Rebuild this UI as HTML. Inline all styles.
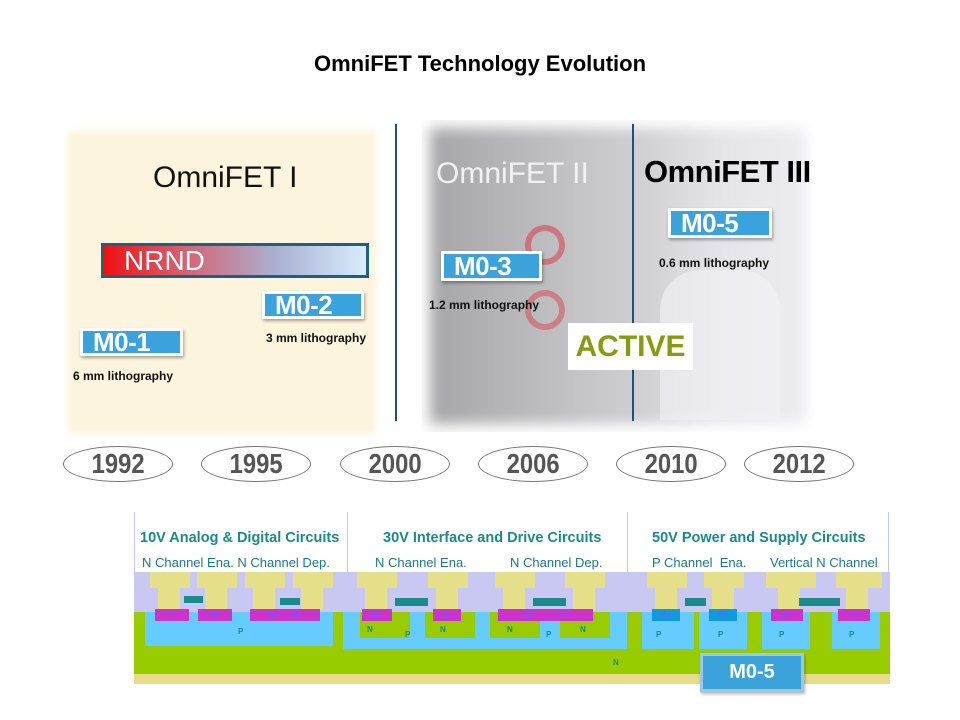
<!DOCTYPE html>
<html><head><meta charset="utf-8"><style>
*{margin:0;padding:0;box-sizing:border-box}
body{width:960px;height:720px;background:#fff;position:relative;overflow:hidden;font-family:"Liberation Sans",sans-serif}
.a{position:absolute}
.box{position:absolute;background:#3aa3dc;border:3px solid #fff;box-shadow:1px 2px 3px rgba(0,0,0,.35);color:#fff;font-weight:bold;font-size:26px;line-height:22px;padding-left:10px;letter-spacing:-0.5px}
.lith{position:absolute;font-weight:bold;font-size:12px;color:#111}
.yr{position:absolute;top:446px;width:110px;height:36px;border:1px solid #777;border-radius:50%;text-align:center;font-weight:bold;font-size:28px;line-height:34px;color:#555}
.yr span{display:inline-block;transform:scaleX(.85)}
.hd{position:absolute;top:530px;color:#1a8a8a;font-weight:bold;font-size:14.5px}
.sub{position:absolute;top:555px;color:#1a7a8a;font-size:13px}
.r{position:absolute}
.nplus{position:absolute;background:#cc33cc;height:12px;top:609px;color:#7a55ff;font-size:8px;line-height:12px;text-align:center}
.pl{position:absolute;color:#1a8a8a;font-size:8px;font-weight:bold}
</style></head><body>
<div class="a" style="left:0;top:51px;width:960px;text-align:center;font-weight:bold;font-size:22px;color:#000">OmniFET Technology Evolution</div>

<div class="a" style="left:72px;top:135px;width:300px;height:295px;background:#fcf4dc;box-shadow:0 0 8px 4px #fcf4dc"></div>
<div class="a" style="left:422px;top:120px;width:392px;height:312px;background:linear-gradient(90deg,#a4a4a6 0%,#bcbcbe 30%,#cfcfd2 55%,#e4e4e8 75%,#eeeef2 100%);box-shadow:0 0 14px 8px #fff inset"></div>
<div class="a" style="left:525px;top:225px;width:40px;height:40px;border-radius:50%;border:6px solid #d23;opacity:.45"></div>
<div class="a" style="left:525px;top:290px;width:40px;height:40px;border-radius:50%;border:6px solid #d23;opacity:.4"></div>
<div class="a" style="left:660px;top:270px;width:120px;height:150px;background:#f4f4f7;border-radius:40px 40px 0 0;opacity:.6"></div>

<div class="a" style="left:395px;top:124px;width:2px;height:297px;background:#1f4e79"></div>
<div class="a" style="left:632px;top:124px;width:2px;height:297px;background:#1f4e79"></div>

<div class="a" style="left:153px;top:161px;font-size:30px;color:#111">OmniFET I</div>
<div class="a" style="left:436px;top:157px;font-size:30px;color:#f2f2f2">OmniFET II</div>
<div class="a" style="left:644px;top:154px;font-size:31px;font-weight:bold;color:#000;letter-spacing:-0.5px">OmniFET III</div>

<div class="a" style="left:101px;top:243px;width:268px;height:35px;border:3px solid #1f5f7f;background:linear-gradient(90deg,#ee1111 0%,#d86070 30%,#a8b0d0 65%,#d8ecfc 100%);color:#fff;font-size:28px;line-height:29px;padding-left:20px">NRND</div>

<div class="box" style="left:262px;top:291px;width:102px;height:28px">M0-2</div>
<div class="box" style="left:80px;top:328px;width:103px;height:28px">M0-1</div>
<div class="box" style="left:441px;top:251px;width:101px;height:30px;line-height:24px">M0-3</div>
<div class="box" style="left:668px;top:208px;width:104px;height:30px;line-height:24px">M0-5</div>
<div class="lith" style="left:266px;top:331px">3 mm lithography</div>
<div class="lith" style="left:73px;top:369px">6 mm lithography</div>
<div class="lith" style="left:429px;top:298px">1.2 mm lithography</div>
<div class="lith" style="left:659px;top:256px">0.6 mm lithography</div>
<div class="a" style="left:568px;top:323px;width:125px;height:47px;background:#fff;color:#8a9a10;font-weight:bold;font-size:30px;text-align:center;line-height:48px">ACTIVE</div>

<div class="yr" style="left:63px"><span>1992</span></div>
<div class="yr" style="left:201px"><span>1995</span></div>
<div class="yr" style="left:340px"><span>2000</span></div>
<div class="yr" style="left:478px"><span>2006</span></div>
<div class="yr" style="left:616px"><span>2010</span></div>
<div class="yr" style="left:744px"><span>2012</span></div>

<!-- diagram -->
<div class="r" style="left:134px;top:512px;width:1px;height:60px;background:#c8c8ee"></div>
<div class="r" style="left:347px;top:512px;width:1px;height:60px;background:#c8c8ee"></div>
<div class="r" style="left:627px;top:512px;width:1px;height:60px;background:#c8c8ee"></div>
<div class="r" style="left:888px;top:512px;width:1px;height:60px;background:#c8c8ee"></div>
<div class="hd" style="left:140px">10V Analog &amp; Digital Circuits</div>
<div class="hd" style="left:383px">30V Interface and Drive Circuits</div>
<div class="hd" style="left:652px">50V Power and Supply Circuits</div>
<div class="sub" style="left:142px">N Channel Ena. N Channel Dep.</div>
<div class="sub" style="left:375px">N Channel Ena.</div>
<div class="sub" style="left:510px">N Channel Dep.</div>
<div class="sub" style="left:652px">P Channel &nbsp;Ena.</div>
<div class="sub" style="left:770px">Vertical N Channel</div>

<div class="r" style="left:134px;top:572px;width:756px;height:40px;background:#c8c8f2"></div>
<div class="r" style="left:134px;top:612px;width:756px;height:62px;background:#99cc00"></div>
<div class="r" style="left:134px;top:674px;width:756px;height:10px;background:#e6dc8a"></div>
<div class="r" style="left:145px;top:612px;width:188px;height:34px;background:#66ccff"></div>
<div class="r" style="left:343px;top:612px;width:284px;height:37px;background:#66ccff"></div>
<div class="r" style="left:360px;top:612px;width:50px;height:26px;background:#99cc00"></div>
<div class="r" style="left:425px;top:612px;width:50px;height:26px;background:#99cc00"></div>
<div class="r" style="left:490px;top:612px;width:50px;height:26px;background:#99cc00"></div>
<div class="r" style="left:560px;top:612px;width:50px;height:26px;background:#99cc00"></div>
<div class="r" style="left:642px;top:612px;width:52px;height:37px;background:#66ccff"></div>
<div class="r" style="left:699px;top:612px;width:48px;height:37px;background:#66ccff"></div>
<div class="r" style="left:762px;top:612px;width:48px;height:37px;background:#66ccff"></div>
<div class="r" style="left:832px;top:612px;width:48px;height:37px;background:#66ccff"></div>
<div class="r" style="left:150px;top:572px;width:40px;height:16px;background:#e4df88"></div>
<div class="r" style="left:158px;top:588px;width:22px;height:22px;background:#e4df88"></div>
<div class="r" style="left:197px;top:572px;width:40px;height:16px;background:#e4df88"></div>
<div class="r" style="left:205px;top:588px;width:22px;height:22px;background:#e4df88"></div>
<div class="r" style="left:245px;top:572px;width:40px;height:16px;background:#e4df88"></div>
<div class="r" style="left:253px;top:588px;width:22px;height:22px;background:#e4df88"></div>
<div class="r" style="left:293px;top:572px;width:40px;height:16px;background:#e4df88"></div>
<div class="r" style="left:301px;top:588px;width:22px;height:22px;background:#e4df88"></div>
<div class="r" style="left:357px;top:572px;width:40px;height:16px;background:#e4df88"></div>
<div class="r" style="left:365px;top:588px;width:22px;height:22px;background:#e4df88"></div>
<div class="r" style="left:428px;top:572px;width:40px;height:16px;background:#e4df88"></div>
<div class="r" style="left:436px;top:588px;width:22px;height:22px;background:#e4df88"></div>
<div class="r" style="left:495px;top:572px;width:40px;height:16px;background:#e4df88"></div>
<div class="r" style="left:503px;top:588px;width:22px;height:22px;background:#e4df88"></div>
<div class="r" style="left:565px;top:572px;width:40px;height:16px;background:#e4df88"></div>
<div class="r" style="left:573px;top:588px;width:22px;height:22px;background:#e4df88"></div>
<div class="r" style="left:647px;top:572px;width:40px;height:16px;background:#e4df88"></div>
<div class="r" style="left:655px;top:588px;width:22px;height:22px;background:#e4df88"></div>
<div class="r" style="left:704px;top:572px;width:40px;height:16px;background:#e4df88"></div>
<div class="r" style="left:712px;top:588px;width:22px;height:22px;background:#e4df88"></div>
<div class="r" style="left:766px;top:572px;width:50px;height:16px;background:#e4df88"></div>
<div class="r" style="left:778px;top:588px;width:22px;height:22px;background:#e4df88"></div>
<div class="r" style="left:836px;top:572px;width:46px;height:16px;background:#e4df88"></div>
<div class="r" style="left:846px;top:588px;width:22px;height:22px;background:#e4df88"></div>
<div class="r" style="left:184px;top:596px;width:19px;height:7px;background:#1a8a8a"></div>
<div class="r" style="left:280px;top:598px;width:20px;height:7px;background:#1a8a8a"></div>
<div class="r" style="left:395px;top:598px;width:33px;height:8px;background:#1a8a8a"></div>
<div class="r" style="left:533px;top:598px;width:33px;height:8px;background:#1a8a8a"></div>
<div class="r" style="left:685px;top:598px;width:21px;height:8px;background:#1a8a8a"></div>
<div class="r" style="left:799px;top:598px;width:41px;height:8px;background:#1a8a8a"></div>
<div class="nplus" style="left:155px;width:34px">N+</div>
<div class="nplus" style="left:198px;width:34px">N+</div>
<div class="nplus" style="left:250px;width:70px">N+ &nbsp;&nbsp;&nbsp;&nbsp; N+</div>
<div class="nplus" style="left:362px;width:30px">N+</div>
<div class="nplus" style="left:433px;width:28px">N+</div>
<div class="nplus" style="left:498px;width:95px">N+ &nbsp;&nbsp;&nbsp;&nbsp;&nbsp;&nbsp;&nbsp;&nbsp; N+</div>
<div class="nplus" style="left:652px;width:28px;background:#1199dd">P+</div>
<div class="nplus" style="left:709px;width:28px;background:#1199dd">P+</div>
<div class="nplus" style="left:771px;width:32px">N+</div>
<div class="nplus" style="left:838px;width:32px">N+</div>
<div class="pl" style="left:238px;top:627px">P</div>
<div class="pl" style="left:367px;top:625px">N</div>
<div class="pl" style="left:405px;top:630px">P</div>
<div class="pl" style="left:440px;top:625px">N</div>
<div class="pl" style="left:507px;top:625px">N</div>
<div class="pl" style="left:546px;top:630px">P</div>
<div class="pl" style="left:580px;top:625px">N</div>
<div class="pl" style="left:613px;top:658px">N</div>
<div class="pl" style="left:656px;top:630px">P</div>
<div class="pl" style="left:718px;top:630px">P</div>
<div class="pl" style="left:779px;top:630px">P</div>
<div class="pl" style="left:849px;top:630px">P</div>
<div class="r" style="left:700px;top:653px;width:104px;height:39px;background:#3aa3dc;border:3px solid #9bc8e6;box-shadow:1px 2px 3px rgba(0,0,0,.3);color:#fff;font-weight:bold;font-size:20px;text-align:center;line-height:33px">M0-5</div>
</body></html>
